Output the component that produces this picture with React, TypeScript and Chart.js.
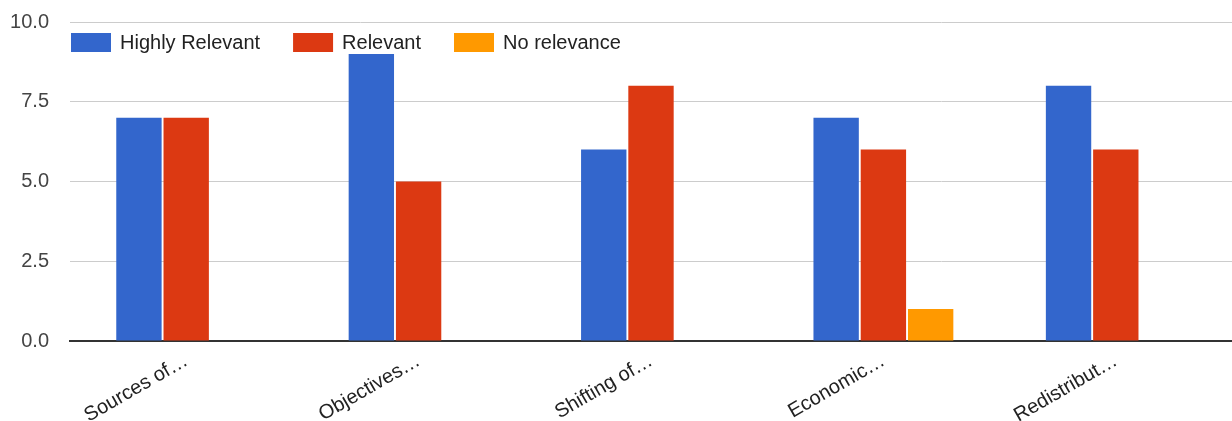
import React, { useEffect, useRef } from "react";
import { Chart, registerables } from "chart.js";

Chart.register(...registerables);

// Categories (already shortened with an ellipsis, as shown on the axis)
const categories = ["Sources of…", "Objectives…", "Shifting of…", "Economic…", "Redistribut…"];

// Series names and counts per category
const seriesNames = ["Highly Relevant", "Relevant", "No relevance"];
const highlyRelevant = [7, 9, 6, 7, 8];
const relevant = [7, 5, 8, 6, 6];
const noRelevance = [null, null, null, 1, null];

// Value axis ticks
const yTicks = [0, 2.5, 5, 7.5, 10];

const seriesColors = ["#3366cc", "#dc3912", "#ff9900"];
const FONT = '"Liberation Sans", Arial, sans-serif';

// Legend row drawn inside the plot area, above the bars
const LEGEND_X = 71;
const LEGEND_Y = 33;
const LEGEND_BOX_W = 40;
const LEGEND_BOX_H = 19;
const LEGEND_TEXT_GAP = 9;
const LEGEND_ITEM_GAP = 33;

const insideLegend = {
  id: "insideLegend",
  afterDatasetsDraw(chart: any) {
    const ctx = chart.ctx as CanvasRenderingContext2D;
    ctx.save();
    ctx.font = `20px ${FONT}`;
    ctx.textBaseline = "middle";
    ctx.textAlign = "left";
    let x = LEGEND_X;
    chart.data.datasets.forEach((ds: any) => {
      ctx.fillStyle = ds.backgroundColor;
      ctx.fillRect(x, LEGEND_Y, LEGEND_BOX_W, LEGEND_BOX_H);
      const tx = x + LEGEND_BOX_W + LEGEND_TEXT_GAP;
      ctx.fillStyle = "#222";
      ctx.fillText(ds.label, tx, LEGEND_Y + LEGEND_BOX_H / 2 + 1);
      x = tx + ctx.measureText(ds.label).width + LEGEND_ITEM_GAP;
    });
    ctx.restore();
  },
};

export default function App() {
  const canvasRef = useRef<HTMLCanvasElement | null>(null);

  useEffect(() => {
    document.body.style.margin = "0";
    const canvas = canvasRef.current;
    if (!canvas) return;

    const chart = new Chart(canvas, {
      type: "bar",
      data: {
        labels: categories,
        datasets: [
          { label: seriesNames[0], data: highlyRelevant, backgroundColor: seriesColors[0], borderWidth: 0 },
          { label: seriesNames[1], data: relevant, backgroundColor: seriesColors[1], borderWidth: 0 },
          { label: seriesNames[2], data: noRelevance as any, backgroundColor: seriesColors[2], borderWidth: 0 },
        ],
      },
      options: {
        responsive: false,
        animation: false,
        devicePixelRatio: 1,
        layout: { padding: { top: 22, left: 0, right: 0, bottom: 0 } },
        datasets: {
          bar: { categoryPercentage: 0.61, barPercentage: 0.96 },
        },
        plugins: {
          legend: { display: false },
          tooltip: { enabled: false },
        },
        scales: {
          x: {
            grid: { display: false, drawTicks: false },
            border: { display: true, color: "#333", width: 2 },
            ticks: {
              autoSkip: false,
              minRotation: 30,
              maxRotation: 30,
              padding: 8,
              color: "#222",
              font: { family: FONT, size: 20 },
            },
            afterFit: (s: any) => {
              s.height = 80;
            },
          },
          y: {
            min: 0,
            max: 10,
            afterBuildTicks: (s: any) => {
              s.ticks = yTicks.map((v) => ({ value: v }));
            },
            grid: { color: "#cccccc", lineWidth: 1, drawTicks: false },
            border: { display: false },
            ticks: {
              padding: 21,
              color: "#444",
              font: { family: FONT, size: 20 },
              callback: (v: any) => Number(v).toFixed(1),
            },
            afterFit: (s: any) => {
              s.width = 70;
              s.paddingTop = 0;
              s.paddingBottom = 0;
            },
          },
        },
      },
      plugins: [insideLegend],
    });

    return () => chart.destroy();
  }, []);

  return (
    <div style={{ width: 1232, height: 421 }}>
      <canvas ref={canvasRef} width={1232} height={421} style={{ display: "block" }} />
    </div>
  );
}
